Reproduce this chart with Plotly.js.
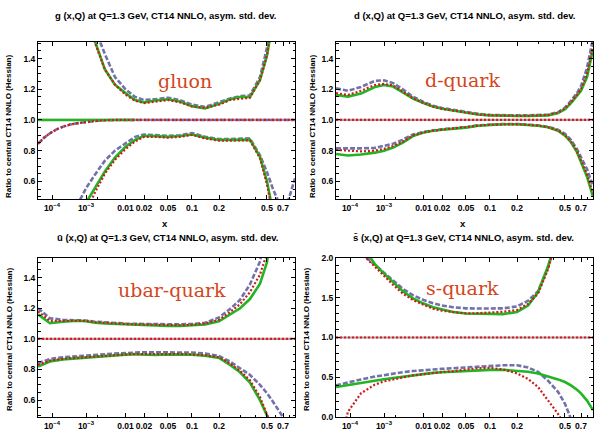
<!DOCTYPE html>
<html><head><meta charset="utf-8">
<script src="https://cdn.plot.ly/plotly-3.0.1.min.js"></script>
<style>html,body{margin:0;padding:0;background:#fff;}#chart{width:596px;height:429px;}</style>
</head><body><div id="chart"></div>
<script>
// ---- data: x sample grid (momentum fraction x) ----
const X_STD = [3.9e-5, 8.7e-5, 2.1e-4, 5.4e-4, 1e-3, 1.7e-3, 3.0e-3, 5.4e-3, 0.01, 0.0143, 0.02, 0.0304, 0.05, 0.0707, 0.1, 0.14, 0.2, 0.247, 0.299, 0.361, 0.4375, 0.5, 0.567, 0.643, 0.7, 0.794, 0.9];
const X_EDGE = [3.9e-5, 0.9];
const ONE = [1, 1];

// gluon
const G_GREEN_UP = [null,null,null,null,1.74,1.51,1.33,1.23,1.175,1.13,1.115,1.127,1.135,1.12,1.09,1.075,1.105,1.135,1.15,1.15,1.26,1.42,1.65,null,null,null,null];
const G_BLUE_UP  = [null,null,null,null,null,1.59,1.43,1.28,1.20,1.15,1.13,1.135,1.145,1.13,1.10,1.085,1.115,1.14,1.155,1.16,1.28,1.47,1.70,null,null,null,null];
const G_RED_UP   = [null,null,null,null,1.72,1.50,1.33,1.23,1.165,1.125,1.11,1.12,1.13,1.115,1.088,1.078,1.10,1.13,1.14,1.145,1.26,1.42,1.65,null,null,null,null];
const G_GREEN_LO = [null,null,null,null,0.46,0.56,0.665,0.755,0.825,0.87,0.897,0.895,0.89,0.895,0.905,0.885,0.87,0.87,0.872,0.872,0.76,0.60,0.40,null,null,null,null];
const G_BLUE_LO  = [null,null,null,0.44,0.555,0.645,0.735,0.80,0.845,0.89,0.905,0.90,0.897,0.90,0.915,0.89,0.875,0.875,0.877,0.88,0.77,0.66,0.55,0.46,0.42,0.49,0.62];
const G_RED_LO   = [null,null,null,null,0.40,0.53,0.65,0.74,0.81,0.86,0.89,0.89,0.885,0.89,0.903,0.88,0.865,0.865,0.865,0.867,0.75,0.58,0.38,null,null,null,null];
const G_SMALLX_X = [3.9e-5, 5.9e-5, 8.7e-5, 1.4e-4, 2.1e-4, 3.4e-4, 5.4e-4, 1e-3, 1.7e-3, 3.0e-3, 5.4e-3, 0.9];
const G_SMALLX_Y = [0.845, 0.885, 0.913, 0.94, 0.956, 0.97, 0.978, 0.988, 0.994, 0.998, 1.0, 1.0];
const G_FLAT_X = [3.9e-5, 0.0143];

// d-quark
const D_GREEN_UP = [1.163,1.152,1.172,1.215,1.228,1.218,1.18,1.14,1.11,1.087,1.073,1.062,1.048,1.036,1.03,1.026,1.026,1.026,1.027,1.03,1.045,1.07,1.11,1.155,1.19,1.28,1.46];
const D_BLUE_UP  = [1.206,1.19,1.215,1.255,1.258,1.24,1.20,1.152,1.118,1.093,1.078,1.066,1.052,1.04,1.033,1.03,1.03,1.03,1.031,1.035,1.05,1.08,1.125,1.175,1.22,1.34,1.53];
const D_RED_UP   = [1.175,1.163,1.19,1.228,1.235,1.225,1.185,1.142,1.11,1.087,1.073,1.062,1.048,1.036,1.03,1.027,1.027,1.027,1.028,1.032,1.047,1.075,1.115,1.162,1.20,1.30,1.48];
const D_GREEN_LO = [0.778,0.768,0.775,0.787,0.80,0.82,0.852,0.895,0.918,0.93,0.936,0.942,0.95,0.962,0.968,0.972,0.972,0.968,0.962,0.952,0.93,0.898,0.855,0.79,0.73,0.63,0.50];
const D_BLUE_LO  = [0.815,0.813,0.815,0.818,0.83,0.845,0.872,0.905,0.922,0.933,0.94,0.946,0.953,0.965,0.97,0.974,0.974,0.97,0.965,0.956,0.937,0.91,0.87,0.81,0.76,0.68,0.57];
const D_RED_LO   = [0.805,0.80,0.795,0.80,0.812,0.83,0.858,0.898,0.918,0.93,0.937,0.943,0.951,0.963,0.969,0.972,0.972,0.968,0.963,0.953,0.932,0.902,0.86,0.797,0.74,0.645,0.52];

// ubar-quark
const U_GREEN_UP = [1.16,1.102,1.112,1.118,1.115,1.105,1.10,1.097,1.094,1.092,1.09,1.088,1.085,1.085,1.087,1.094,1.115,1.158,1.20,1.26,1.36,1.50,1.80,null,null,null,null];
const U_BLUE_UP  = [1.20,1.135,1.124,1.124,1.12,1.112,1.107,1.104,1.10,1.098,1.097,1.096,1.095,1.095,1.097,1.105,1.14,1.195,1.255,1.355,1.505,1.72,null,null,null,null,null];
const U_RED_UP   = [1.179,1.118,1.118,1.12,1.117,1.109,1.104,1.10,1.097,1.095,1.093,1.091,1.089,1.089,1.092,1.10,1.125,1.175,1.227,1.305,1.42,1.56,1.85,null,null,null,null];
const U_GREEN_LO = [0.819,0.852,0.866,0.874,0.878,0.883,0.888,0.893,0.897,0.90,0.898,0.895,0.899,0.90,0.897,0.89,0.876,0.83,0.782,0.715,0.60,0.50,0.40,null,null,null,null];
const U_BLUE_LO  = [0.841,0.869,0.88,0.888,0.893,0.897,0.90,0.904,0.908,0.912,0.913,0.912,0.911,0.911,0.911,0.905,0.888,0.852,0.81,0.765,0.70,0.645,0.59,0.53,0.495,0.43,null];
const U_RED_LO   = [0.83,0.858,0.87,0.877,0.881,0.886,0.89,0.895,0.899,0.902,0.90,0.898,0.90,0.902,0.899,0.893,0.88,0.84,0.79,0.73,0.62,0.51,0.41,null,null,null,null];

// s-quark
const S_GREEN_UP = [null,null,2.17,1.92,1.80,1.69,1.58,1.49,1.425,1.38,1.35,1.32,1.30,1.295,1.292,1.293,1.32,1.40,1.57,1.889,2.3,null,null,null,null,null,null];
const S_BLUE_UP  = [null,null,2.06,1.91,1.815,1.71,1.61,1.53,1.47,1.43,1.40,1.38,1.365,1.363,1.363,1.365,1.39,1.46,1.58,1.87,2.3,null,null,null,null,null,null];
const S_RED_UP   = [null,null,2.06,1.885,1.78,1.66,1.55,1.47,1.41,1.36,1.335,1.317,1.302,1.305,1.312,1.322,1.345,1.42,1.55,1.85,2.3,null,null,null,null,null,null];
const S_GREEN_LO = [0.38,0.405,0.435,0.46,0.477,0.493,0.51,0.527,0.54,0.557,0.565,0.572,0.581,0.588,0.594,0.595,0.585,0.57,0.55,0.515,0.475,0.442,0.40,0.345,0.30,0.21,0.09];
const S_BLUE_LO  = [0.40,0.44,0.475,0.51,0.53,0.548,0.565,0.58,0.593,0.60,0.607,0.615,0.623,0.633,0.645,0.652,0.652,0.625,0.568,0.46,0.32,0.17,-0.02,null,null,null,null];
const S_RED_LO   = [-0.55,0.07,0.30,0.41,0.45,0.475,0.505,0.525,0.54,0.557,0.567,0.578,0.598,0.615,0.62,0.60,0.55,0.48,0.379,0.212,0.044,-0.1,null,null,null,null,null];

// ticks
const X_TICKS = [1e-4, 1e-3, 0.01, 0.02, 0.05, 0.1, 0.2, 0.5, 0.7];
const X_TICK_TEXT = ['10<sup>\u22124</sup>','10<sup>\u22123</sup>','0.01','0.02','0.05','0.1','0.2','0.5','0.7'];
const X_MINOR = [2e-3, 0.3, 0.4, 0.6, 0.8, 0.9];
const Y_TICKS_Q = [0.6, 0.8, 1.0, 1.2, 1.4];
const Y_TICKS_S = [0, 0.5, 1.0, 1.5, 2.0];

const TITLES = ['g (x,Q) at Q=1.3 GeV, CT14 NNLO, asym. std. dev.',
                'd (x,Q) at Q=1.3 GeV, CT14 NNLO, asym. std. dev.',
                'u\u0304 (x,Q) at Q=1.3 GeV, CT14 NNLO, asym. std. dev.',
                's\u0304 (x,Q) at Q=1.3 GeV, CT14 NNLO, asym. std. dev.'];
const LABELS = ['gluon','d-quark','ubar-quark','s-quark'];
const YTITLE = 'Ratio to central CT14 NNLO (Hessian)';

// ---- custom x scale (log at small x, stretched toward large x), as in the original ----
const SCALE_LOG = [-4.41, -4, -3, -2, Math.log10(0.02), Math.log10(0.05), -1, Math.log10(0.2), Math.log10(0.5), Math.log10(0.7), Math.log10(0.9)];
const SCALE_POS = [0, 0.0545, 0.1868, 0.3405, 0.4125, 0.5058, 0.5992, 0.7043, 0.891, 0.9533, 1.0];
function sx(x){
  const L = Math.log10(x);
  let i = 0;
  while (i < SCALE_LOG.length - 2 && L > SCALE_LOG[i+1]) i++;
  const t = (L - SCALE_LOG[i]) / (SCALE_LOG[i+1] - SCALE_LOG[i]);
  return SCALE_POS[i] + t * (SCALE_POS[i+1] - SCALE_POS[i]);
}

const STY = {
  green: {color:'#22b422', width:2.6, dash:'solid'},
  blue:  {color:'#7272aa', width:2.6, dash:'5px,2px'},
  red:   {color:'#cc1c1c', width:2.2, dash:'2px,2px'},
  mauve: {color:'#c39aa6', width:2.2, dash:'solid'}
};

const traces = [];
function add(xa, ya, xs, ys, sty){
  traces.push({type:'scatter', mode:'lines', xaxis:xa, yaxis:ya,
    x: xs.map(sx), y: ys, line: STY[sty], connectgaps:false,
    hoverinfo:'skip', showlegend:false});
}
const PANELS = [
  {xa:'x',  ya:'y',  sets:[[G_BLUE_UP,'blue'],[G_BLUE_LO,'blue'],[G_GREEN_UP,'green'],[G_GREEN_LO,'green'],[G_RED_UP,'red'],[G_RED_LO,'red']]},
  {xa:'x2', ya:'y2', sets:[[D_BLUE_UP,'blue'],[D_BLUE_LO,'blue'],[D_GREEN_UP,'green'],[D_GREEN_LO,'green'],[D_RED_UP,'red'],[D_RED_LO,'red']]},
  {xa:'x3', ya:'y3', sets:[[U_BLUE_UP,'blue'],[U_BLUE_LO,'blue'],[U_GREEN_UP,'green'],[U_GREEN_LO,'green'],[U_RED_UP,'red'],[U_RED_LO,'red']]},
  {xa:'x4', ya:'y4', sets:[[S_BLUE_UP,'blue'],[S_BLUE_LO,'blue'],[S_GREEN_UP,'green'],[S_GREEN_LO,'green'],[S_RED_UP,'red'],[S_RED_LO,'red']]}
];
PANELS.forEach((p, k) => {
  add(p.xa, p.ya, X_EDGE, ONE, 'mauve');
  if (k === 0) {
    add(p.xa, p.ya, G_SMALLX_X, G_SMALLX_Y, 'blue');
    add(p.xa, p.ya, G_FLAT_X, ONE, 'green');
  }
  p.sets.forEach(s => add(p.xa, p.ya, X_STD, s[0], s[1]));
  if (k === 0) add(p.xa, p.ya, G_SMALLX_X, G_SMALLX_Y, 'red');
  else add(p.xa, p.ya, X_EDGE, ONE, 'red');
});

const W = 596, H = 429;
const tickFont = {family:'Liberation Sans, Arial, sans-serif', size:8.5, color:'#000', weight:'bold'};
function xAxis(dom, anchor){
  return {domain:dom, anchor:anchor, range:[0,1], type:'linear',
    tickmode:'array', tickvals:X_TICKS.map(sx), ticktext:X_TICK_TEXT, tickangle:0,
    ticks:'inside', ticklen:4, tickwidth:1, tickcolor:'#000',
    minor:{tickmode:'array', tickvals:X_MINOR.map(sx), ticks:'inside', ticklen:2.5, tickcolor:'#000'},
    showline:true, linecolor:'#000', linewidth:1, mirror:'allticks',
    showgrid:false, zeroline:false, tickfont:tickFont, fixedrange:true};
}
function yAxis(dom, anchor, range, ticks, minorStep){
  return {domain:dom, anchor:anchor, range:range, tickmode:'array', tickvals:ticks,
    ticktext:ticks.map(v => v.toFixed(1)),
    ticks:'inside', ticklen:4, tickwidth:1, tickcolor:'#000',
    minor:{dtick:minorStep, ticks:'inside', ticklen:2.5, tickcolor:'#000'},
    showline:true, linecolor:'#000', linewidth:1, mirror:'allticks',
    showgrid:false, zeroline:false, tickfont:tickFont, fixedrange:true};
}
const XL = [38/W, 295/W], XR = [336/W, 593/W];
const YT = [(H-199.3)/H, (H-41.7)/H], YB = [(H-417.3)/H, (H-257.7)/H];

const ann = [];
function px(x){ return x/W; } function py(y){ return (H-y)/H; }
const titleFont = {family:'Liberation Sans, Arial, sans-serif', size:9.5, color:'#000', weight:'bold'};
[[165,15],[464,15],[167,237],[463,237]].forEach((c,i) => ann.push({xref:'paper', yref:'paper', x:px(c[0]), y:py(c[1]), text:TITLES[i], showarrow:false, xanchor:'center', yanchor:'middle', font:titleFont}));
[[165,223],[463,223]].forEach(c => ann.push({xref:'paper', yref:'paper', x:px(c[0]), y:py(c[1]), text:'x', showarrow:false, xanchor:'center', yanchor:'middle', font:titleFont}));
[[9,127],[313,127],[9,340],[306,340]].forEach(c => ann.push({xref:'paper', yref:'paper', x:px(c[0]), y:py(c[1]), text:YTITLE, textangle:-90, showarrow:false, xanchor:'center', yanchor:'middle', font:{family:'Liberation Sans, Arial, sans-serif', size:8, color:'#000', weight:'bold'}}));
[[185,81],[462,80],[172,290],[462,288]].forEach((c,i) => ann.push({xref:'paper', yref:'paper', x:px(c[0]), y:py(c[1]), text:LABELS[i], showarrow:false, xanchor:'center', yanchor:'middle', font:{family:'DejaVu Serif, serif', size:19, color:'#d4461a'}}));

const layout = {
  width:W, height:H, margin:{l:0,r:0,t:0,b:0}, paper_bgcolor:'#fff', plot_bgcolor:'#fff',
  showlegend:false,
  xaxis: xAxis(XL,'y'), xaxis2: xAxis(XR,'y2'), xaxis3: xAxis(XL,'y3'), xaxis4: xAxis(XR,'y4'),
  yaxis: yAxis(YT,'x',[0.483,1.51],Y_TICKS_Q,0.05),
  yaxis2: yAxis(YT,'x2',[0.483,1.51],Y_TICKS_Q,0.05),
  yaxis3: yAxis(YB,'x3',[0.488,1.53],Y_TICKS_Q,0.05),
  yaxis4: yAxis(YB,'x4',[0,2],Y_TICKS_S,0.1),
  annotations: ann
};
Plotly.newPlot('chart', traces, layout, {staticPlot:true, displayModeBar:false});
</script></body></html>
